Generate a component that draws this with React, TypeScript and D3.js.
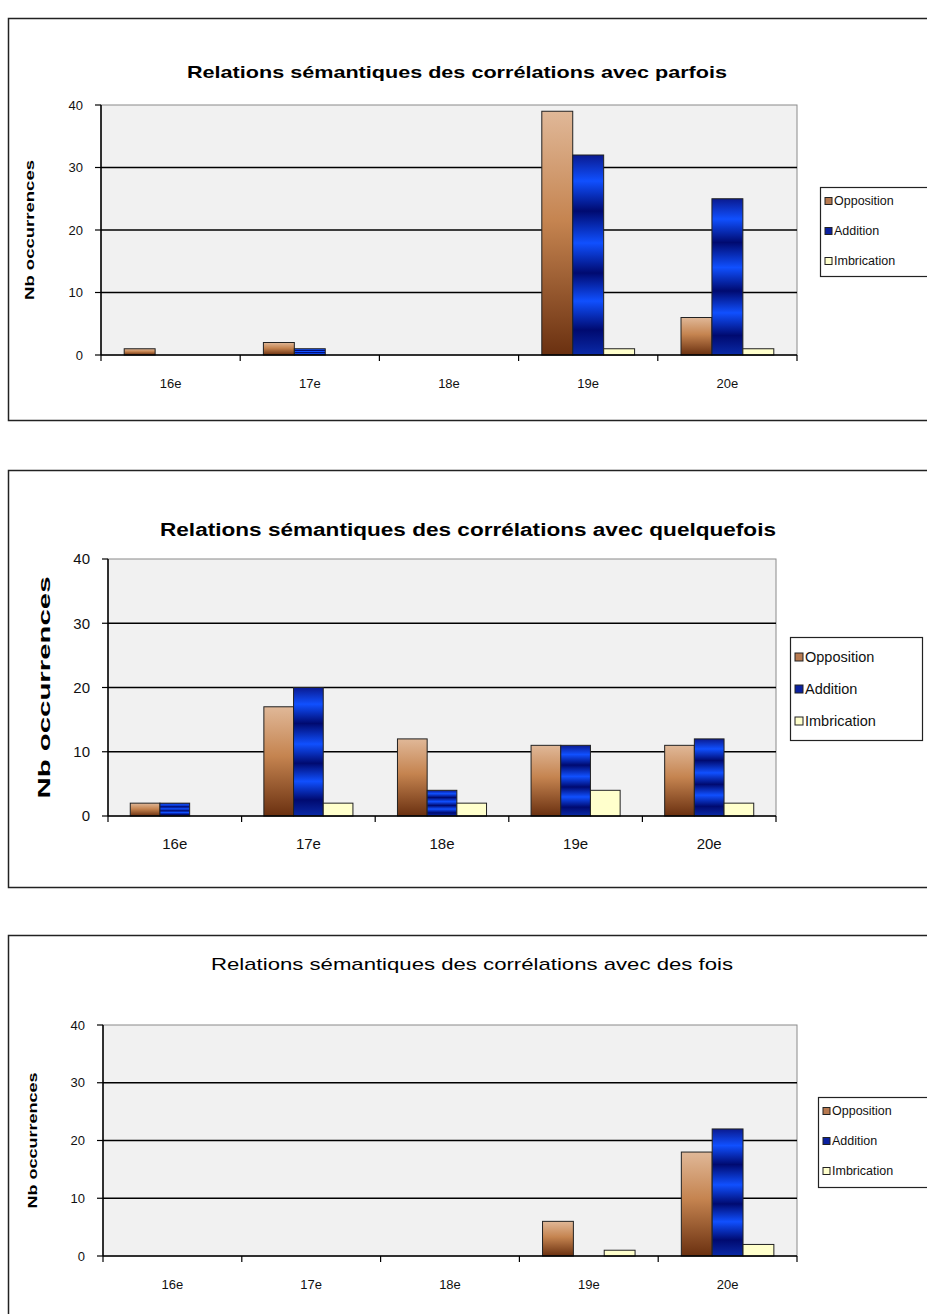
import * as d3 from 'd3';

// ── Data ──────────────────────────────────────────────────────────────────────
const CATEGORIES = ['16e', '17e', '18e', '19e', '20e'];
const SERIES = ['Opposition', 'Addition', 'Imbrication'];
const Y_TICKS = [0, 10, 20, 30, 40];

const TITLES = [
  'Relations sémantiques des corrélations avec parfois',
  'Relations sémantiques des corrélations avec quelquefois',
  'Relations sémantiques des corrélations avec des fois',
];
const Y_TITLE = 'Nb occurrences';

const PARFOIS_OPPOSITION = [1, 2, 0, 39, 6];
const PARFOIS_ADDITION = [0, 1, 0, 32, 25];
const PARFOIS_IMBRICATION = [0, 0, 0, 1, 1];

const QUELQUEFOIS_OPPOSITION = [2, 17, 12, 11, 11];
const QUELQUEFOIS_ADDITION = [2, 20, 4, 11, 12];
const QUELQUEFOIS_IMBRICATION = [0, 2, 2, 4, 2];

const DESFOIS_OPPOSITION = [0, 0, 0, 6, 18];
const DESFOIS_ADDITION = [0, 0, 0, 0, 22];
const DESFOIS_IMBRICATION = [0, 0, 0, 1, 2];

const CHART_VALUES = [
  [PARFOIS_OPPOSITION, PARFOIS_ADDITION, PARFOIS_IMBRICATION],
  [QUELQUEFOIS_OPPOSITION, QUELQUEFOIS_ADDITION, QUELQUEFOIS_IMBRICATION],
  [DESFOIS_OPPOSITION, DESFOIS_ADDITION, DESFOIS_IMBRICATION],
];

// ── Layout (pixel positions) ─────────────────────────────────────────────────
const W = 927;
const H = 1314;
const FONT = '"Liberation Sans", Arial, sans-serif';

interface Layout {
  frameTop: number;
  frameBottom: number;
  titleX: number;
  titleY: number;
  titleSize: number;
  titleLen: number;
  titleBold: boolean;
  x0: number;
  x1: number;
  y0: number;
  y1: number;
  axisSize: number;
  catY: number;
  yTitleX: number;
  yTitleSize: number;
  yTitleLen: number;
  legend: { x: number; y: number; w: number; h: number; size: number; rows: number[]; sw: number };
}

const LAYOUTS: Layout[] = [
  {
    frameTop: 18, frameBottom: 420,
    titleX: 457, titleY: 78, titleSize: 17, titleLen: 540, titleBold: true,
    x0: 101, x1: 797, y0: 105, y1: 355,
    axisSize: 13, catY: 388,
    yTitleX: 34, yTitleSize: 12, yTitleLen: 140,
    legend: { x: 820, y: 187, w: 120, h: 89, size: 12.5, rows: [201, 231, 261], sw: 7 },
  },
  {
    frameTop: 470, frameBottom: 887,
    titleX: 468, titleY: 536, titleSize: 18, titleLen: 616, titleBold: true,
    x0: 108, x1: 776, y0: 559, y1: 816,
    axisSize: 15, catY: 849,
    yTitleX: 50, yTitleSize: 16, yTitleLen: 222,
    legend: { x: 790, y: 637, w: 132, h: 103, size: 14.5, rows: [657, 689, 721], sw: 8 },
  },
  {
    frameTop: 935, frameBottom: 1330,
    titleX: 472, titleY: 970, titleSize: 17, titleLen: 522, titleBold: false,
    x0: 103, x1: 797, y0: 1025, y1: 1256,
    axisSize: 13, catY: 1289,
    yTitleX: 37, yTitleSize: 12, yTitleLen: 136,
    legend: { x: 818, y: 1097, w: 120, h: 90, size: 12.5, rows: [1111, 1141, 1171], sw: 7 },
  },
];

const FILLS = ['url(#gOpp)', 'url(#gAdd)', '#ffffcc'];
const SWATCH = ['#b87a50', '#0a20a0', '#ffffcc'];

function Chart({ idx }: { idx: number }) {
  const L = LAYOUTS[idx];
  const values = CHART_VALUES[idx];

  const x = d3.scaleBand<string>().domain(CATEGORIES).range([L.x0, L.x1]).padding(0);
  const step = x.step();
  const xs = d3.scaleBand<string>().domain(SERIES).range([step / 6, (step * 5) / 6]).padding(0);
  const y = d3.scaleLinear().domain([0, 40]).range([L.y1, L.y0]);

  const bounds = [...CATEGORIES.map(c => x(c) ?? 0), L.x1];

  return (
    <g fontFamily={FONT}>
      {/* outer frame */}
      <rect x={8.5} y={L.frameTop + 0.5} width={W + 20} height={L.frameBottom - L.frameTop}
        fill="#fff" stroke="#222" strokeWidth={1.5} />

      <text x={L.titleX} y={L.titleY} textAnchor="middle" fontSize={L.titleSize}
        fontWeight={L.titleBold ? 700 : 400} fill="#000"
        textLength={L.titleLen} lengthAdjust="spacingAndGlyphs">
        {TITLES[idx]}
      </text>

      {/* plot area */}
      <rect x={L.x0} y={L.y0} width={L.x1 - L.x0} height={L.y1 - L.y0}
        fill="#f1f1f1" stroke="#8a8a8a" strokeWidth={1} />

      {Y_TICKS.map(t => (
        <g key={t}>
          {t > 0 && t < 40 && (
            <line x1={L.x0} x2={L.x1} y1={y(t)} y2={y(t)} stroke="#000" strokeWidth={1.3} />
          )}
          <line x1={L.x0 - 6} x2={L.x0} y1={y(t)} y2={y(t)} stroke="#000" strokeWidth={1.2} />
          <text x={L.x0 - 18} y={y(t)} dy="0.35em" textAnchor="end" fontSize={L.axisSize} fill="#111">
            {t}
          </text>
        </g>
      ))}

      {/* bars */}
      {CATEGORIES.map((c, ci) => (
        <g key={c}>
          {SERIES.map((s, si) => {
            const v = values[si][ci];
            if (v <= 0) return null;
            const bx = (x(c) ?? 0) + (xs(s) ?? 0);
            return (
              <rect key={s} x={bx} y={y(v)} width={xs.bandwidth()} height={y(0) - y(v)}
                fill={FILLS[si]} stroke="#222" strokeWidth={1} />
            );
          })}
        </g>
      ))}

      {/* axes */}
      <line x1={L.x0} x2={L.x0} y1={L.y0} y2={L.y1} stroke="#000" strokeWidth={1.5} />
      <line x1={L.x0} x2={L.x1} y1={L.y1} y2={L.y1} stroke="#000" strokeWidth={1.5} />
      {bounds.map((bx, i) => (
        <line key={i} x1={bx} x2={bx} y1={L.y1} y2={L.y1 + 6} stroke="#000" strokeWidth={1.2} />
      ))}
      {CATEGORIES.map(c => (
        <text key={c} x={(x(c) ?? 0) + step / 2} y={L.catY} textAnchor="middle"
          fontSize={L.axisSize} fill="#111">
          {c}
        </text>
      ))}

      <text transform={`translate(${L.yTitleX},${(L.y0 + L.y1) / 2}) rotate(-90)`}
        textAnchor="middle" fontSize={L.yTitleSize} fontWeight={700} fill="#000"
        textLength={L.yTitleLen} lengthAdjust="spacingAndGlyphs">
        {Y_TITLE}
      </text>

      {/* legend */}
      <rect x={L.legend.x + 0.5} y={L.legend.y + 0.5} width={L.legend.w} height={L.legend.h}
        fill="#fff" stroke="#222" strokeWidth={1.2} />
      {SERIES.map((s, si) => (
        <g key={s}>
          <rect x={L.legend.x + 5} y={L.legend.rows[si] - L.legend.sw / 2}
            width={L.legend.sw} height={L.legend.sw} fill={SWATCH[si]} stroke="#222" strokeWidth={1} />
          <text x={L.legend.x + 7 + L.legend.sw} y={L.legend.rows[si]} dy="0.35em"
            fontSize={L.legend.size} fill="#111">
            {s}
          </text>
        </g>
      ))}
    </g>
  );
}

export default function App() {
  return (
    <div style={{ position: 'absolute', left: 0, top: 0 }}>
      <svg width={W} height={H} viewBox={`0 0 ${W} ${H}`} style={{ display: 'block' }}>
        <defs>
          <linearGradient id="gOpp" x1="0" y1="0" x2="0" y2="1">
            <stop offset="0" stopColor="#e0b898" />
            <stop offset="0.45" stopColor="#c58450" />
            <stop offset="1" stopColor="#6a3010" />
          </linearGradient>
          <linearGradient id="gAdd" x1="0" y1="0" x2="0" y2="1">
            <stop offset="0" stopColor="#0a1a90" />
            <stop offset="0.13" stopColor="#1050ff" />
            <stop offset="0.28" stopColor="#000a70" />
            <stop offset="0.44" stopColor="#1050ff" />
            <stop offset="0.59" stopColor="#000a70" />
            <stop offset="0.73" stopColor="#1050ff" />
            <stop offset="0.875" stopColor="#000a70" />
            <stop offset="1" stopColor="#0a2aa8" />
          </linearGradient>
        </defs>
        <rect width={W} height={H} fill="#fff" />
        {LAYOUTS.map((_, i) => (
          <Chart key={i} idx={i} />
        ))}
      </svg>
    </div>
  );
}
